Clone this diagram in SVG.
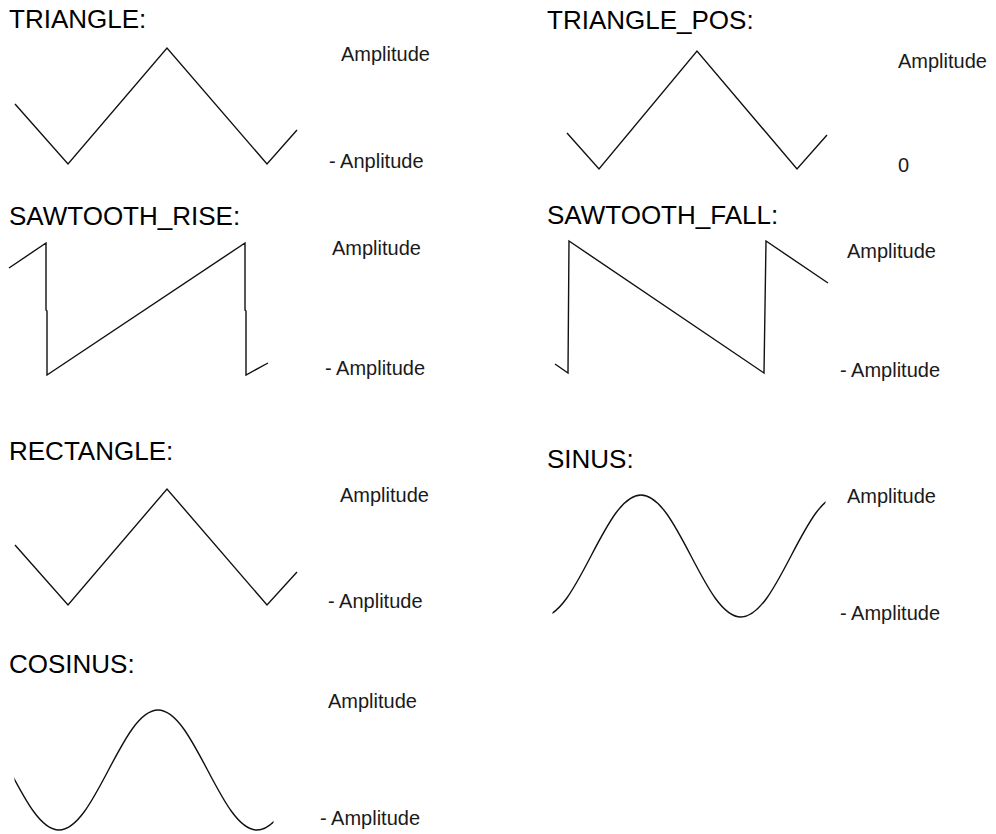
<svg xmlns="http://www.w3.org/2000/svg" width="996" height="834" viewBox="0 0 996 834">
  <defs>
    <style>
      .title { font-family: "Liberation Sans", Arial, sans-serif; font-size: 26px; fill: #000; }
      .lbl { font-family: "Liberation Sans", Arial, sans-serif; font-size: 20px; fill: #1a1a1a; }
      .wave { fill: none; stroke: #111; stroke-width: 1.4; stroke-linejoin: miter; }
    </style>
    <clipPath id="clipSin"><rect x="552.5" y="470" width="273" height="170"/></clipPath>
    <clipPath id="clipCos"><rect x="14.5" y="690" width="259" height="144"/></clipPath>
  </defs>
  <rect width="996" height="834" fill="#fff"/>

  <g id="triangle">
    <text class="title" x="9" y="28">TRIANGLE:</text>
    <polyline class="wave" points="15,104 68,164 167,48 267,164 297,130"/>
    <text class="lbl" x="341" y="61">Amplitude</text>
    <text class="lbl" x="329" y="168">- Anplitude</text>
  </g>

  <g id="triangle_pos">
    <text class="title" x="547" y="29">TRIANGLE_POS:</text>
    <polyline class="wave" points="567,133 599,169 697,51 797,169 827,135"/>
    <text class="lbl" x="898" y="68">Amplitude</text>
    <text class="lbl" x="898" y="172">0</text>
  </g>

  <g id="sawtooth_rise">
    <text class="title" x="9" y="225">SAWTOOTH_RISE:</text>
    <polyline class="wave" points="9,268 46,243 46,310 47,311 47,375 245,243 245,310 246,311 246,375 268,363"/>
    <text class="lbl" x="332" y="255">Amplitude</text>
    <text class="lbl" x="325" y="375">- Amplitude</text>
  </g>

  <g id="sawtooth_fall">
    <text class="title" x="547" y="224">SAWTOOTH_FALL:</text>
    <polyline class="wave" points="555,364 568,373 569,241 764,373 766,241 828,283"/>
    <text class="lbl" x="847" y="258">Amplitude</text>
    <text class="lbl" x="840" y="377">- Amplitude</text>
  </g>

  <g id="rectangle">
    <text class="title" x="9" y="460">RECTANGLE:</text>
    <polyline class="wave" points="15,545 68,605 167,489 267,605 297,572"/>
    <text class="lbl" x="340" y="502">Amplitude</text>
    <text class="lbl" x="328" y="608">- Anplitude</text>
  </g>

  <g id="sinus">
    <text class="title" x="547" y="468">SINUS:</text>
    <path class="wave" clip-path="url(#clipSin)" d="M541,617 C559.1,617 574.7,587.25 591,556 C607.3,524.75 622.9,495 641,495 C659.1,495 674.7,524.75 691,556 C707.3,587.25 722.9,617 741,617 C759.1,617 774.7,587.25 791,556 C807.3,524.75 822.9,495 841,495"/>
    <text class="lbl" x="847" y="503">Amplitude</text>
    <text class="lbl" x="840" y="620">- Amplitude</text>
  </g>

  <g id="cosinus">
    <text class="title" x="9" y="673">COSINUS:</text>
    <path class="wave" clip-path="url(#clipCos)" d="M9.5,770 C25.64,800.74 41.09,830 59,830 C76.91,830 92.36,800.74 108.5,770 C124.64,739.26 140.09,710 158,710 C175.91,710 191.36,739.26 207.5,770 C223.64,800.74 239.09,830 257,830 C274.91,830 290.36,800.74 306.5,770"/>
    <text class="lbl" x="328" y="708">Amplitude</text>
    <text class="lbl" x="320" y="825">- Amplitude</text>
  </g>
</svg>
